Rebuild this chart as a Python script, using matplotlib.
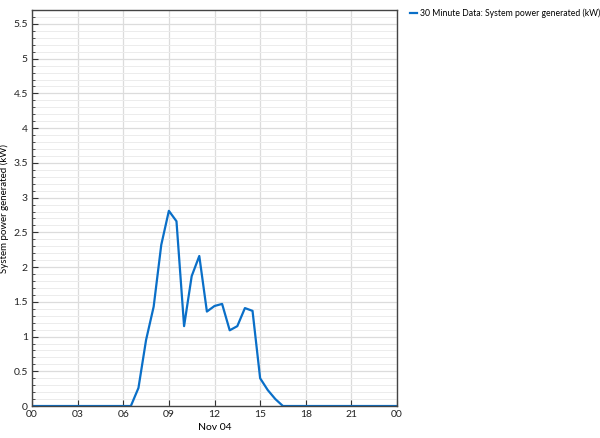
import numpy as np
import matplotlib
matplotlib.use("Agg")
import matplotlib.pyplot as plt
from matplotlib.ticker import MultipleLocator

plt.rcParams['font.family'] = ['Lato', 'DejaVu Sans']
plt.rcParams['font.size'] = 7.5

# 30 minute readings, Nov 04 (hours since midnight)
hours = [h * 0.5 for h in range(49)]
power = [0, 0, 0, 0, 0, 0, 0, 0, 0, 0, 0, 0,
         0, 0,                      # 06:00, 06:30
         0.26, 0.95, 1.43, 2.32,    # 07:00 - 08:30
         2.81, 2.66, 1.15, 1.87,    # 09:00 - 10:30
         2.16, 1.36, 1.44, 1.47,    # 11:00 - 12:30
         1.09, 1.15, 1.41, 1.37,    # 13:00 - 14:30
         0.40, 0.23, 0.10, 0,       # 15:00 - 16:30
         0, 0, 0, 0, 0, 0, 0, 0, 0, 0, 0, 0, 0, 0, 0]
tick_hours = [0, 3, 6, 9, 12, 15, 18, 21, 24]
tick_labels = ["00", "03", "06", "09", "12", "15", "18", "21", "00"]
series_name = "30 Minute Data: System power generated (kW)"

fig = plt.figure(figsize=(6, 4.38), dpi=100)
ax = fig.add_axes([0.0533, 0.073, 0.6084, 0.904])

ax.plot(hours, power, color='#0a6fc8', lw=1.6, label=series_name)

ax.set_xlim(0, 24)
ax.set_ylim(0, 5.7)
ax.set_xticks(tick_hours)
ax.set_xticklabels(tick_labels)
ax.yaxis.set_minor_locator(MultipleLocator(0.1))
ax.set_yticks(np.arange(0, 5.51, 0.5))
ax.set_yticklabels(["0", "0.5", "1", "1.5", "2", "2.5", "3", "3.5", "4", "4.5", "5", "5.5"])

ax.grid(True, which='major', color='#dcdcdc', lw=0.9)
ax.grid(True, which='minor', axis='y', color='#ececec', lw=0.7)
ax.set_axisbelow(True)

ax.tick_params(which='both', direction='in', color='#333333', labelcolor='#222222')
ax.tick_params(which='major', length=4, pad=3)
ax.tick_params(which='minor', length=2)
for s in ax.spines.values():
    s.set_color('#444444')
    s.set_linewidth(1.0)

ax.set_xlabel("Nov 04", labelpad=3)
ax.set_ylabel("System power generated (kW)", labelpad=3, fontsize=7)

ax.legend(loc='upper left', bbox_to_anchor=(1.025, 1.012), frameon=False,
          handlelength=0.9, handletextpad=0.3, borderaxespad=0, fontsize=6.2)

fig.savefig("out.png", dpi=100)
